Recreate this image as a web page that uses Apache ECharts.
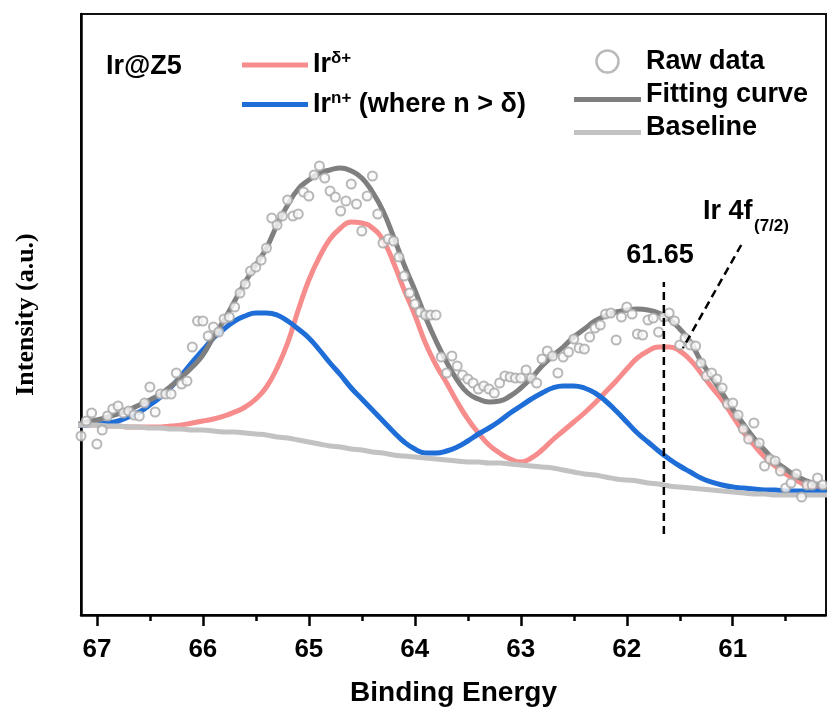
<!DOCTYPE html>
<html>
<head>
<meta charset="utf-8">
<script src="https://cdn.jsdelivr.net/npm/echarts@6/dist/echarts.min.js"></script>
<style>
  html, body { margin: 0; padding: 0; background: #fff; }
  #chart { width: 827px; height: 715px; }
</style>
</head>
<body>
<div id="chart"></div>
<script>
// Ir 4f XPS spectrum of Ir@Z5: raw points, fitted envelope, two components, Shirley baseline.
// Intensities are in arbitrary units.

const rawEnergy = [
  67.15, 67.1, 67.05, 67, 66.95, 66.9, 66.85, 66.8, 66.75, 66.7,
  66.65, 66.6, 66.55, 66.5, 66.45, 66.4, 66.35, 66.3, 66.25, 66.2,
  66.15, 66.1, 66.05, 66, 65.95, 65.9, 65.85, 65.8, 65.75, 65.7,
  65.65, 65.6, 65.55, 65.5, 65.45, 65.4, 65.35, 65.3, 65.25, 65.2,
  65.15, 65.1, 65.05, 65, 64.95, 64.9, 64.85, 64.8, 64.75, 64.7,
  64.65, 64.6, 64.55, 64.5, 64.45, 64.4, 64.35, 64.3, 64.25, 64.2,
  64.15, 64.1, 64.05, 64, 63.95, 63.9, 63.85, 63.8, 63.75, 63.7,
  63.65, 63.6, 63.55, 63.5, 63.45, 63.4, 63.35, 63.3, 63.25, 63.2,
  63.15, 63.1, 63.05, 63, 62.95, 62.9, 62.85, 62.8, 62.75, 62.7,
  62.65, 62.6, 62.55, 62.5, 62.45, 62.4, 62.35, 62.3, 62.25, 62.2,
  62.15, 62.1, 62.05, 62, 61.95, 61.9, 61.85, 61.8, 61.75, 61.7,
  61.65, 61.6, 61.55, 61.5, 61.45, 61.4, 61.35, 61.3, 61.25, 61.2,
  61.15, 61.1, 61.05, 61, 60.95, 60.9, 60.85, 60.8, 60.75, 60.7,
  60.65, 60.6, 60.55, 60.5, 60.45, 60.4, 60.35, 60.3, 60.25, 60.2,
  60.15, 60.1
]
const rawIntensity = [
  179, 194, 202, 171, 185, 199, 206, 209, 202, 204,
  200, 199, 212, 228, 203, 221, 221, 221, 242, 231,
  234, 268, 294, 294, 279, 288, 283, 296, 298, 308,
  322, 331, 344, 348, 355, 367, 397, 390, 399, 415,
  399, 401, 423, 419, 440, 449, 437, 424, 418, 404,
  414, 431, 411, 384, 419, 439, 401, 372, 376, 374,
  358, 339, 322, 311, 303, 300, 300, 300, 258, 242,
  259, 249, 240, 236, 232, 226, 229, 226, 222, 232,
  239, 238, 237, 237, 245, 237, 232, 256, 264, 259,
  242, 258, 263, 276, 267, 266, 278, 287, 290, 301,
  302, 275, 298, 308, 301, 281, 280, 295, 297, 283,
  298, 302, 294, 270, 277, 270, 269, 252, 239, 242,
  236, 227, 211, 212, 200, 186, 176, 192, 172, 149,
  156, 154, 144, 127, 132, 141, 118, 130, 130, 137,
  130, 126
]

// energies at which the fitted curves were read
const fitEnergy = [
  67.2, 67.1, 67.0, 66.9, 66.8, 66.7, 66.6, 66.5, 66.4, 66.3,
  66.2, 66.1, 66.0, 65.9, 65.8, 65.7, 65.6, 65.5, 65.4, 65.3,
  65.2, 65.1, 65.0, 64.9, 64.8, 64.7, 64.6, 64.5, 64.4, 64.3,
  64.2, 64.1, 64.0, 63.9, 63.8, 63.7, 63.6, 63.5, 63.4, 63.3,
  63.2, 63.1, 63.0, 62.9, 62.8, 62.7, 62.6, 62.5, 62.4, 62.3,
  62.2, 62.1, 62.0, 61.9, 61.8, 61.7, 61.6, 61.5, 61.4, 61.3,
  61.2, 61.1, 61.0, 60.9, 60.8, 60.7, 60.6, 60.5, 60.4, 60.3,
  60.2, 60.1
]
const fitCurve = [
  190, 193, 195, 198, 201, 205, 210, 215, 221, 229,
  238, 248, 260, 278, 295, 314, 333, 350, 367, 390,
  410, 426, 435, 442, 445, 447, 444, 437, 423, 404,
  378, 350, 325, 298, 274, 253, 235, 222, 216, 213,
  214, 219, 227, 237, 249, 259, 268, 278, 286, 294,
  299, 303, 305, 306, 305, 302, 296, 286, 273, 254,
  238, 222, 206, 191, 177, 165, 154, 146, 139, 134,
  130, 127
]
const peakDelta = [
  190, 190, 190, 189, 189, 188, 188, 188, 188, 189,
  190, 192, 194, 196, 199, 203, 208, 216, 228, 247,
  272, 305, 335, 358, 376, 387, 393, 392, 387, 375,
  352, 325, 300, 272, 250, 232, 213, 196, 182, 170,
  162, 156, 153, 157, 165, 175, 184, 193, 202, 212,
  223, 234, 246, 257, 264, 268, 268, 264, 255, 242,
  228, 215, 199, 183, 170, 158, 149, 141, 135, 129,
  126, 124
]
const peakN = [
  190, 190, 191, 192, 194, 198, 203, 210, 218, 228,
  240, 253, 265, 277, 286, 294, 299, 302, 302, 300,
  294, 286, 277, 265, 252, 240, 227, 216, 205, 194,
  183, 173, 166, 162, 162, 164, 168, 174, 181, 187,
  194, 202, 209, 216, 222, 227, 229, 229, 227, 222,
  214, 204, 193, 182, 173, 164, 156, 149, 143, 137,
  133, 130, 128, 127, 126, 125, 125, 124, 124, 124,
  124, 124
]
const baseline = [
  190, 190, 190, 189, 189, 188, 188, 187, 187, 186,
  186, 185, 185, 184, 183, 183, 182, 181, 180, 178,
  177, 175, 173, 171, 169, 168, 166, 165, 163, 162,
  160, 159, 158, 157, 156, 155, 154, 153, 153, 152,
  152, 151, 150, 149, 148, 147, 145, 143, 141, 140,
  138, 136, 135, 134, 132, 131, 129, 128, 127, 126,
  125, 124, 123, 122, 121, 121, 120, 120, 120, 120,
  120, 120
]

const majorTicks = [67, 66, 65, 64, 63, 62, 61]
const minorTicks = [66.5, 65.5, 64.5, 63.5, 62.5, 61.5, 60.5]

// annotation: peak position marker and the leader line to the "Ir 4f(7/2)" label
const peakMarker = [[61.65, 81], [61.65, 333]]
const leaderLine = [[60.92, 370], [61.47, 267]]

const X_MIN = 60.12
const X_MAX = 67.15
const Y_MAX = 601

const PINK = "#f68c8c"
const BLUE = "#1f6ed8"
const FIT_GRAY = "#7f7f7f"
const BASE_GRAY = "#c2c2c2"
const SANS = "Liberation Sans"

const pairs = (xs, ys) => xs.map((x, i) => [x, ys[i]])

// legend bar drawn a few px below the text centre, as in the figure
const LOW_BAR = "path://M0,0M0,10H67V15H0Z"

const legendText = {
  color: "#000",
  rich: {
    a: {fontFamily: SANS, fontWeight: "bold", fontSize: 27, lineHeight: 30, color: "#000"},
    p: {fontFamily: SANS, fontWeight: "bold", fontSize: 17, lineHeight: 17, verticalAlign: "top", color: "#000"},
  },
}

const lineSeries = (name, data, color, z) => ({
  name,
  type: "line",
  data,
  smooth: true,
  symbol: "none",
  color,
  itemStyle: {color},
  lineStyle: {color, width: 5},
  z,
})

const dashed = (data) => ({
  type: "line",
  data,
  symbol: "none",
  silent: true,
  lineStyle: {color: "#000", width: 2.5, type: [8, 5]},
  z: 6,
})

const xBase = {
  type: "value",
  min: X_MIN,
  max: X_MAX,
  inverse: true,
  position: "bottom",
  splitLine: {show: false},
}

const option = {
  animation: false,
  backgroundColor: "#fff",
  grid: {left: 81, right: 1, top: 14, bottom: 100, show: true, borderColor: "#111", borderWidth: 2},
  xAxis: [
    {
      ...xBase,
      axisLine: {show: true, lineStyle: {color: "#000", width: 2.5}},
      axisTick: {show: true, customValues: majorTicks, length: 11, lineStyle: {color: "#000", width: 2.5}},
      axisLabel: {
        customValues: majorTicks,
        margin: 22,
        color: "#000",
        fontFamily: SANS,
        fontWeight: "bold",
        fontSize: 26,
      },
      name: "Binding Energy",
      nameLocation: "middle",
      nameGap: 64,
      nameTextStyle: {color: "#000", fontFamily: SANS, fontWeight: "bold", fontSize: 28},
    },
    {
      ...xBase,
      axisLine: {show: false},
      axisTick: {show: true, customValues: minorTicks, length: 6, lineStyle: {color: "#000", width: 2.5}},
      axisLabel: {show: false},
    },
  ],
  yAxis: {
    type: "value",
    min: 0,
    max: Y_MAX,
    axisLine: {show: true, lineStyle: {color: "#000", width: 2.5}},
    axisTick: {show: false},
    axisLabel: {show: false},
    splitLine: {show: false},
    name: "Intensity (a.u.)",
    nameLocation: "middle",
    nameGap: 42,
    nameTextStyle: {color: "#000", fontFamily: "Liberation Serif", fontWeight: "bold", fontSize: 26},
  },
  legend: [
    {
      left: 242,
      top: 50,
      padding: 0,
      orient: "vertical",
      itemWidth: 66,
      itemHeight: 5,
      itemGap: 11,
      icon: "rect",
      selectedMode: false,
      data: ["Irδ+", "Irn+ (where n > δ)"],
      formatter: (name) =>
        name === "Irδ+" ? "{a|Ir}{p|δ+}" : "{a|Ir}{p|n+}{a| (where n > δ)}",
      textStyle: legendText,
    },
    {
      left: 574,
      top: 48,
      padding: 0,
      orient: "vertical",
      itemWidth: 67,
      itemHeight: 22,
      itemGap: 6,
      selectedMode: false,
      data: [
        {name: "Raw data", icon: "circle", itemStyle: {color: "#fff", borderColor: "#a9a9a9", borderWidth: 2.5}},
        {name: "Fitting curve", icon: LOW_BAR},
        {name: "Baseline", icon: LOW_BAR},
      ],
      formatter: (name) => `{a|${name}}`,
      textStyle: legendText,
    },
  ],
  graphic: [
    {type: "text", x: 106, y: 67, style: {text: "Ir@Z5", fill: "#000", fontFamily: SANS, fontWeight: "bold", fontSize: 27, align: "left", verticalAlign: "middle"}},
    {type: "text", x: 660, y: 256, style: {text: "61.65", fill: "#000", fontFamily: SANS, fontWeight: "bold", fontSize: 27, align: "center", verticalAlign: "middle"}},
    {type: "text", x: 703, y: 212, style: {text: "Ir 4f", fill: "#000", fontFamily: SANS, fontWeight: "bold", fontSize: 27, align: "left", verticalAlign: "middle"}},
    {type: "text", x: 754, y: 226, style: {text: "(7/2)", fill: "#000", fontFamily: SANS, fontWeight: "bold", fontSize: 17, align: "left", verticalAlign: "middle"}},
  ],
  series: [
    lineSeries("Irδ+", pairs(fitEnergy, peakDelta), PINK, 2),
    lineSeries("Irn+ (where n > δ)", pairs(fitEnergy, peakN), BLUE, 2),
    lineSeries("Fitting curve", pairs(fitEnergy, fitCurve), FIT_GRAY, 3),
    lineSeries("Baseline", pairs(fitEnergy, baseline), BASE_GRAY, 4),
    {
      name: "Raw data",
      type: "scatter",
      data: pairs(rawEnergy, rawIntensity),
      symbol: "circle",
      symbolSize: 9,
      itemStyle: {color: "#fafafa", borderColor: "#a6a6a6", borderWidth: 2},
      z: 5,
    },
    dashed(peakMarker),
    dashed(leaderLine),
  ],
}

const chart = echarts.init(document.getElementById("chart"))
chart.setOption(option)
</script>
</body>
</html>
